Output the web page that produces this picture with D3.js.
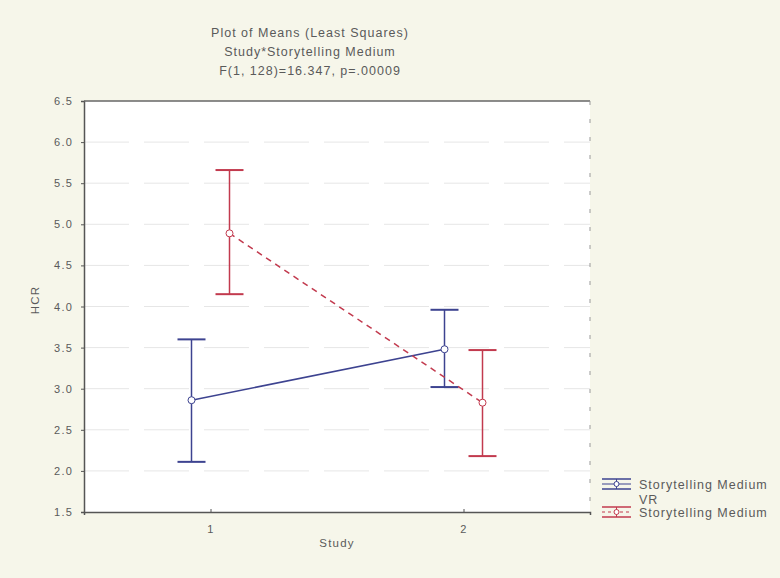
<!DOCTYPE html>
<meta charset="utf-8">
<script src="https://d3js.org/d3.v7.min.js"></script>
<style>
  body { margin: 0; background: #f6f6ea; }
  text { font-family: "Liberation Sans", Arial, sans-serif; fill: #5a5a5a; }
</style>
<div id="chart">
<script>
// chart data
var studies = ["1", "2"]
var ticks = [1.5, 2.0, 2.5, 3.0, 3.5, 4.0, 4.5, 5.0, 5.5, 6.0, 6.5]
var titleLines = ["Plot of Means (Least Squares)", "Study*Storytelling Medium", "F(1, 128)=16.347, p=.00009"]
var seriesNames = ["Storytelling Medium", "Storytelling Medium"]
var seriesSub = ["VR", ""]
var vrMean = [2.86, 3.48]
var vrLow = [2.11, 3.02]
var vrHigh = [3.60, 3.96]
var otherMean = [4.89, 2.83]
var otherLow = [4.15, 2.18]
var otherHigh = [5.66, 3.47]

var width = 780, height = 578
var plot = {left: 84, right: 590, top: 101, bottom: 512}
var colors = ["#3d4390", "#c23a4e"]
var offsets = [-19, 19]

var svg = d3.select("#chart").append("svg")
    .attr("width", width)
    .attr("height", height)

svg.append("rect").attr("width", width).attr("height", height).attr("fill", "#f6f6ea")
svg.append("rect")
    .attr("x", plot.left).attr("y", plot.top)
    .attr("width", plot.right - plot.left).attr("height", plot.bottom - plot.top)
    .attr("fill", "#ffffff")

var x = d3.scalePoint().domain(studies).range([plot.left, plot.right]).padding(0.5)
var y = d3.scaleLinear().domain([1.5, 6.5]).range([plot.bottom, plot.top])

// gridlines
svg.selectAll(".grid")
    .data(ticks.slice(1, -1))
    .enter().append("line")
    .attr("x1", plot.left).attr("x2", plot.right)
    .attr("y1", d => y(d)).attr("y2", d => y(d))
    .attr("stroke", "#e6e6e6")
    .attr("stroke-dasharray", "45,15")

// axes
var yAxis = svg.append("g")
    .attr("transform", "translate(" + plot.left + ",0)")
    .call(d3.axisLeft(y).tickValues(ticks).tickFormat(d3.format(".1f")).tickSize(3).tickPadding(8))
var xAxis = svg.append("g")
    .attr("transform", "translate(0," + plot.bottom + ")")
    .call(d3.axisBottom(x).tickSize(3).tickPadding(10))
;[yAxis, xAxis].forEach(function(g) {
  g.select(".domain").attr("stroke", "#555").attr("stroke-width", 1.5)
  g.selectAll(".tick line").attr("stroke", "#555")
  g.selectAll("text").attr("font-size", 11).attr("letter-spacing", 1.2).attr("fill", "#5a5a5a")
})
xAxis.selectAll(".tick line").attr("y2", -3)

// top and right frame
svg.append("line")
    .attr("x1", plot.left).attr("x2", plot.right)
    .attr("y1", plot.top).attr("y2", plot.top)
    .attr("stroke", "#666").attr("stroke-width", 1.5)
svg.append("line")
    .attr("x1", plot.right).attr("x2", plot.right)
    .attr("y1", plot.top).attr("y2", plot.bottom)
    .attr("stroke", "#999").attr("stroke-dasharray", "4,14")

// titles
svg.selectAll(".title")
    .data(titleLines)
    .enter().append("text")
    .attr("x", 310)
    .attr("y", (d, i) => 37 + i * 19)
    .attr("text-anchor", "middle")
    .attr("font-size", 12.5)
    .attr("letter-spacing", 1)
    .text(d => d)

svg.append("text")
    .attr("x", 337).attr("y", 547)
    .attr("text-anchor", "middle")
    .attr("font-size", 11.5)
    .attr("letter-spacing", 1.2)
    .text("Study")
svg.append("text")
    .attr("transform", "translate(39,300) rotate(-90)")
    .attr("text-anchor", "middle")
    .attr("font-size", 11.5)
    .attr("letter-spacing", 1.2)
    .text("HCR")

// series
var series = [
  {mean: vrMean, low: vrLow, high: vrHigh, dash: null},
  {mean: otherMean, low: otherLow, high: otherHigh, dash: "6,5"}
]
var cap = 14

series.forEach(function(s, k) {
  var pts = studies.map(function(st, i) {
    return {x: x(st) + offsets[k], m: s.mean[i], lo: s.low[i], hi: s.high[i]}
  })
  var g = svg.append("g")
  g.append("path")
      .datum(pts)
      .attr("d", d3.line().x(d => d.x).y(d => y(d.m)))
      .attr("fill", "none")
      .attr("stroke", colors[k])
      .attr("stroke-width", 1.5)
      .attr("stroke-dasharray", s.dash)
  var bars = g.selectAll(".bar").data(pts).enter().append("g")
  bars.append("line")
      .attr("x1", d => d.x).attr("x2", d => d.x)
      .attr("y1", d => y(d.lo)).attr("y2", d => y(d.hi))
      .attr("stroke", colors[k]).attr("stroke-width", 1.5)
  bars.append("line")
      .attr("x1", d => d.x - cap).attr("x2", d => d.x + cap)
      .attr("y1", d => y(d.hi)).attr("y2", d => y(d.hi))
      .attr("stroke", colors[k]).attr("stroke-width", 2)
  bars.append("line")
      .attr("x1", d => d.x - cap).attr("x2", d => d.x + cap)
      .attr("y1", d => y(d.lo)).attr("y2", d => y(d.lo))
      .attr("stroke", colors[k]).attr("stroke-width", 2)
  bars.append("circle")
      .attr("cx", d => d.x).attr("cy", d => y(d.m))
      .attr("r", 3.5)
      .attr("fill", "#fff")
      .attr("stroke", colors[k]).attr("stroke-width", 1)
})

// legend
var legendY = [484, 512]
seriesNames.forEach(function(name, k) {
  var ly = legendY[k]
  var g = svg.append("g").attr("transform", "translate(602," + ly + ")")
  g.append("line").attr("x1", 0).attr("x2", 29).attr("y1", -5).attr("y2", -5)
      .attr("stroke", colors[k]).attr("stroke-width", 1.5)
  g.append("line").attr("x1", 0).attr("x2", 29).attr("y1", 5).attr("y2", 5)
      .attr("stroke", colors[k]).attr("stroke-width", 1.5)
  g.append("line").attr("x1", 14.5).attr("x2", 14.5).attr("y1", -5).attr("y2", 5)
      .attr("stroke", colors[k])
  g.append("line").attr("x1", 0).attr("x2", 29).attr("y1", 0).attr("y2", 0)
      .attr("stroke", colors[k]).attr("stroke-dasharray", k ? "3,3" : null)
  g.append("circle").attr("cx", 14.5).attr("cy", 0).attr("r", 2.5)
      .attr("fill", "#fff").attr("stroke", colors[k])
  g.append("text").attr("x", 37).attr("y", 5).attr("font-size", 12.5)
      .attr("letter-spacing", 1).text(name)
  if (seriesSub[k]) {
    g.append("text").attr("x", 37).attr("y", 20).attr("font-size", 12.5)
        .attr("letter-spacing", 1).text(seriesSub[k])
  }
})
</script>
</div>
